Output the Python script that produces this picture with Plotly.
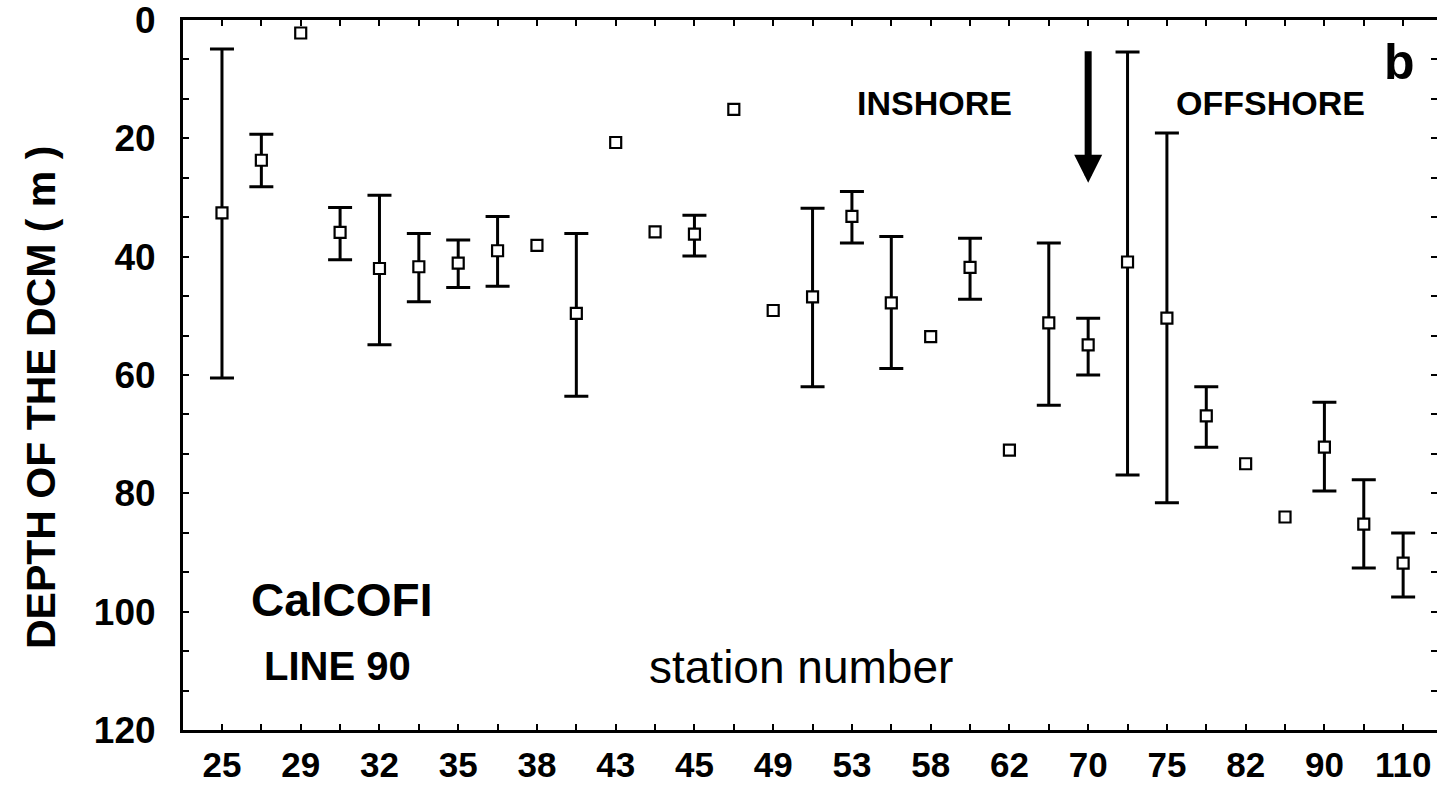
import plotly.graph_objects as go

# ---- data ----
station_labels = ["25", "", "29", "", "32", "", "35", "", "38", "", "43", "", "45", "", "49", "",
                  "53", "", "58", "", "62", "", "70", "", "75", "", "82", "", "90", "", "110"]
depth = [32.6, 23.7, 2.2, 35.9, 42.0, 41.7, 41.1, 39.0, 38.1, 49.6, 20.7, 35.8, 36.2, 15.1, 49.1,
         46.8, 33.2, 47.8, 53.5, 41.8, 72.7, 51.2, 54.9, 40.9, 50.4, 66.9, 75.0, 84.0, 72.2, 85.2, 91.8]
range_top = [4.9, 19.3, None, 31.7, 29.6, 36.1, 37.2, 33.2, None, 36.1, None, None, 33.0, None, None,
             31.8, 29.0, 36.6, None, 36.9, None, 37.7, 50.4, 5.4, 19.1, 62.0, None, None, 64.6, 77.7, 86.7]
range_bottom = [60.5, 28.2, None, 40.5, 54.9, 47.6, 45.2, 45.0, None, 63.6, None, None, 39.9, None, None,
                62.0, 37.7, 58.9, None, 47.2, None, 65.1, 60.0, 76.9, 81.6, 72.2, None, None, 79.6, 92.6, 97.5]
y_ticks = [0, 20, 40, 60, 80, 100, 120]
boundary_station_index = 22  # station 70: inshore / offshore boundary

# ---- layout geometry ----
W, H = 1437, 787
ML, MR, MT, MB = 183, 0, 20, 57
PW, PH = W - ML - MR, H - MT - MB


def px(x):
    return (x - ML) / PW


def py(y):
    return 1 - (y - MT) / PH


idx = list(range(len(depth)))
bar_x, bar_y, bar_plus, bar_minus = [], [], [], []
pt_x, pt_y = [], []
for i, d, t, b in zip(idx, depth, range_top, range_bottom):
    if t is None:
        pt_x.append(i)
        pt_y.append(d)
    else:
        bar_x.append(i)
        bar_y.append(d)
        bar_plus.append(b - d)
        bar_minus.append(d - t)

marker = dict(symbol="square", size=11, color="white", line=dict(color="black", width=2.2))

fig = go.Figure()
fig.add_trace(go.Scatter(
    x=bar_x, y=bar_y, mode="markers", marker=marker,
    error_y=dict(type="data", symmetric=False, array=bar_plus, arrayminus=bar_minus,
                 color="black", thickness=3, width=12),
    showlegend=False))
fig.add_trace(go.Scatter(x=pt_x, y=pt_y, mode="markers", marker=marker, showlegend=False))

FAM = "Liberation Sans, Arial, sans-serif"
x_tick_font = dict(family=FAM, size=35, color="black", weight="bold")
y_tick_font = dict(family=FAM, size=37, color="black", weight="bold")

fig.update_xaxes(
    range=[-0.99, 30.86], tickmode="array", tickvals=idx, ticktext=station_labels,
    ticks="inside", ticklen=6, tickwidth=2, tickcolor="black",
    showline=True, linewidth=3, linecolor="black", mirror="ticks",
    showgrid=False, zeroline=False, tickfont=x_tick_font, ticklabelstandoff=2,
    automargin=False, ticklabeloverflow="allow")
fig.update_yaxes(
    range=[120, 0], tickmode="array", tickvals=y_ticks,
    ticks="inside", ticklen=6, tickwidth=2, tickcolor="black",
    minor=dict(dtick=20 / 3, tick0=0, ticks="inside", ticklen=6, tickwidth=2, tickcolor="black",
               showgrid=False),
    showline=True, linewidth=3, linecolor="black", mirror="ticks",
    showgrid=False, zeroline=False, tickfont=y_tick_font, ticklabelstandoff=17,
    automargin=False, ticklabeloverflow="allow")

ann = [
    dict(text="<b>DEPTH OF THE DCM ( m )</b>", x=px(41), y=py(398), textangle=-90,
         font=dict(family=FAM, size=41, color="black")),
    dict(text="<b>INSHORE</b>", x=px(935), y=py(103), font=dict(family=FAM, size=34, color="black")),
    dict(text="<b>OFFSHORE</b>", x=px(1270), y=py(103), font=dict(family=FAM, size=34, color="black")),
    dict(text="<b>b</b>", x=px(1399), y=py(62), font=dict(family=FAM, size=50, color="black")),
    dict(text="<b>CalCOFI</b>", x=px(341), y=py(600), font=dict(family=FAM, size=46, color="black")),
    dict(text="<b>LINE 90</b>", x=px(337), y=py(666), font=dict(family=FAM, size=40, color="black")),
    dict(text="station number", x=px(801), y=py(667), font=dict(family=FAM, size=46, color="black")),
]
for a in ann:
    fig.add_annotation(xref="paper", yref="paper", showarrow=False, xanchor="center",
                       yanchor="middle", **a)

fig.add_annotation(x=boundary_station_index, y=27.5, xref="x", yref="y", text="",
                   showarrow=True, ax=0, ay=-133, arrowhead=2, arrowsize=0.8,
                   arrowwidth=7, arrowcolor="black")

fig.update_layout(
    width=W, height=H, margin=dict(l=ML, r=MR, t=MT, b=MB, pad=0, autoexpand=False),
    paper_bgcolor="white", plot_bgcolor="white", showlegend=False)

fig.write_html("out.html")
